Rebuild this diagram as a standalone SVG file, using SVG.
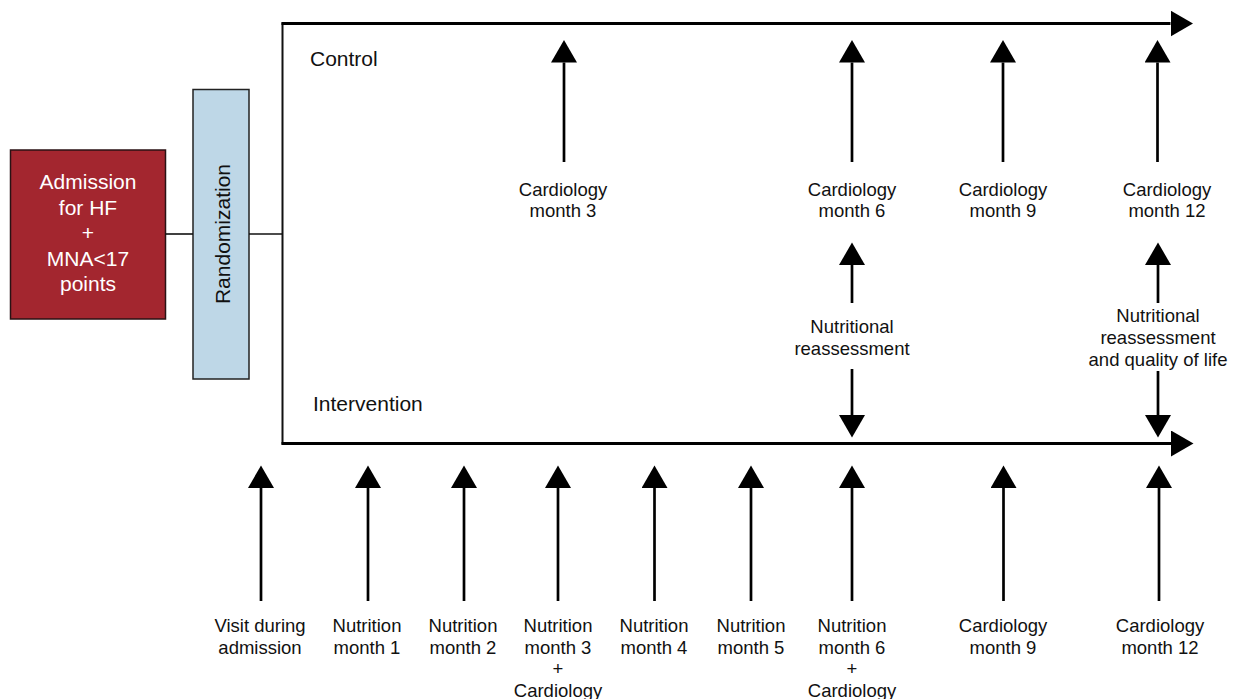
<svg xmlns="http://www.w3.org/2000/svg" width="1234" height="699" viewBox="0 0 1234 699">
<style>
  text { font-family: "Liberation Sans", Arial, sans-serif; fill: #111; }
  .s { font-size: 18.5px; text-anchor: middle; }
  .l { font-size: 21px; }
  .w { fill: #fff; font-size: 21px; text-anchor: middle; }
  .ar { stroke: #000; stroke-width: 2.7; fill: none; marker-end: url(#head); }
  .thin { stroke: #111; stroke-width: 1.6; fill: none; }
</style>
<defs>
  <marker id="head" markerUnits="userSpaceOnUse" viewBox="0 -13 23 26" markerWidth="23" markerHeight="26" refX="0" refY="0" orient="auto">
    <path d="M0,-13 L22.5,0 L0,13 Z" fill="#000"/>
  </marker>
</defs>
<rect width="1234" height="699" fill="#fff"/>

<g id="admission">
  <rect x="10.5" y="150" width="155" height="169" fill="#a3262f" stroke="#2a1214" stroke-width="1.5"/>
  <text class="w" x="88" y="189">Admission</text>
  <text class="w" x="88" y="214.5">for HF</text>
  <text class="w" x="88" y="240">+</text>
  <text class="w" x="88" y="265.5">MNA&lt;17</text>
  <text class="w" x="88" y="291">points</text>
</g>

<g id="randomization">
  <rect x="193" y="89.5" width="56" height="289.5" fill="#bed7e7" stroke="#222" stroke-width="1.5"/>
  <text class="l" x="230" y="234" text-anchor="middle" transform="rotate(-90 230 234)">Randomization</text>
</g>

<g id="connectors">
  <line class="thin" x1="165.5" y1="234" x2="193" y2="234"/>
  <line class="thin" x1="249" y1="234" x2="282.5" y2="234"/>
  <line x1="282.5" y1="22.5" x2="282.5" y2="444.5" stroke="#111" stroke-width="2"/>
  <line x1="281.5" y1="23.5" x2="1170.5" y2="23.5" stroke="#000" stroke-width="3" marker-end="url(#head)"/>
  <line x1="281.5" y1="443.5" x2="1171" y2="443.5" stroke="#000" stroke-width="3" marker-end="url(#head)"/>
  <!-- control arrows -->
  <line class="ar" x1="564" y1="162" x2="564" y2="62.5"/>
  <line class="ar" x1="852" y1="162" x2="852" y2="62.5"/>
  <line class="ar" x1="1003" y1="162" x2="1003" y2="62.5"/>
  <line class="ar" x1="1157.5" y1="162" x2="1157.5" y2="62.5"/>
  <!-- reassessment arrows -->
  <line class="ar" x1="852" y1="303" x2="852" y2="265"/>
  <line class="ar" x1="852" y1="369" x2="852" y2="415"/>
  <line class="ar" x1="1158" y1="303" x2="1158" y2="265"/>
  <line class="ar" x1="1158" y1="371" x2="1158" y2="415"/>
  <!-- intervention arrows -->
  <line class="ar" x1="261" y1="601" x2="261" y2="488"/>
  <line class="ar" x1="368" y1="601" x2="368" y2="488"/>
  <line class="ar" x1="464" y1="601" x2="464" y2="488"/>
  <line class="ar" x1="558" y1="601" x2="558" y2="488"/>
  <line class="ar" x1="654.5" y1="601" x2="654.5" y2="488"/>
  <line class="ar" x1="751" y1="601" x2="751" y2="488"/>
  <line class="ar" x1="852" y1="601" x2="852" y2="488"/>
  <line class="ar" x1="1003.5" y1="601" x2="1003.5" y2="488"/>
  <line class="ar" x1="1159" y1="601" x2="1159" y2="488"/>
</g>

<g id="labels">
  <text class="l" x="310" y="66">Control</text>
  <text class="l" x="313" y="411">Intervention</text>
</g>

<g id="control-cardio-3"><text class="s" x="563" y="195.5">Cardiology</text><text class="s" x="563" y="216.5">month 3</text></g>
<g id="control-cardio-6"><text class="s" x="852" y="195.5">Cardiology</text><text class="s" x="852" y="216.5">month 6</text></g>
<g id="control-cardio-9"><text class="s" x="1003" y="195.5">Cardiology</text><text class="s" x="1003" y="216.5">month 9</text></g>
<g id="control-cardio-12"><text class="s" x="1167" y="195.5">Cardiology</text><text class="s" x="1167" y="216.5">month 12</text></g>

<g id="reassess-6"><text class="s" x="852" y="333">Nutritional</text><text class="s" x="852" y="355">reassessment</text></g>
<g id="reassess-12"><text class="s" x="1158" y="322">Nutritional</text><text class="s" x="1158" y="344">reassessment</text><text class="s" x="1158" y="366">and quality of life</text></g>

<g id="int-visit"><text class="s" x="260" y="632">Visit during</text><text class="s" x="260" y="653.5">admission</text></g>
<g id="int-n1"><text class="s" x="367" y="632">Nutrition</text><text class="s" x="367" y="653.5">month 1</text></g>
<g id="int-n2"><text class="s" x="463" y="632">Nutrition</text><text class="s" x="463" y="653.5">month 2</text></g>
<g id="int-n3"><text class="s" x="558" y="632">Nutrition</text><text class="s" x="558" y="653.5">month 3</text><text class="s" x="558" y="675">+</text><text class="s" x="558" y="696.5">Cardiology</text></g>
<g id="int-n4"><text class="s" x="654" y="632">Nutrition</text><text class="s" x="654" y="653.5">month 4</text></g>
<g id="int-n5"><text class="s" x="751" y="632">Nutrition</text><text class="s" x="751" y="653.5">month 5</text></g>
<g id="int-n6"><text class="s" x="852" y="632">Nutrition</text><text class="s" x="852" y="653.5">month 6</text><text class="s" x="852" y="675">+</text><text class="s" x="852" y="696.5">Cardiology</text></g>
<g id="int-c9"><text class="s" x="1003" y="632">Cardiology</text><text class="s" x="1003" y="653.5">month 9</text></g>
<g id="int-c12"><text class="s" x="1160" y="632">Cardiology</text><text class="s" x="1160" y="653.5">month 12</text></g>
</svg>
